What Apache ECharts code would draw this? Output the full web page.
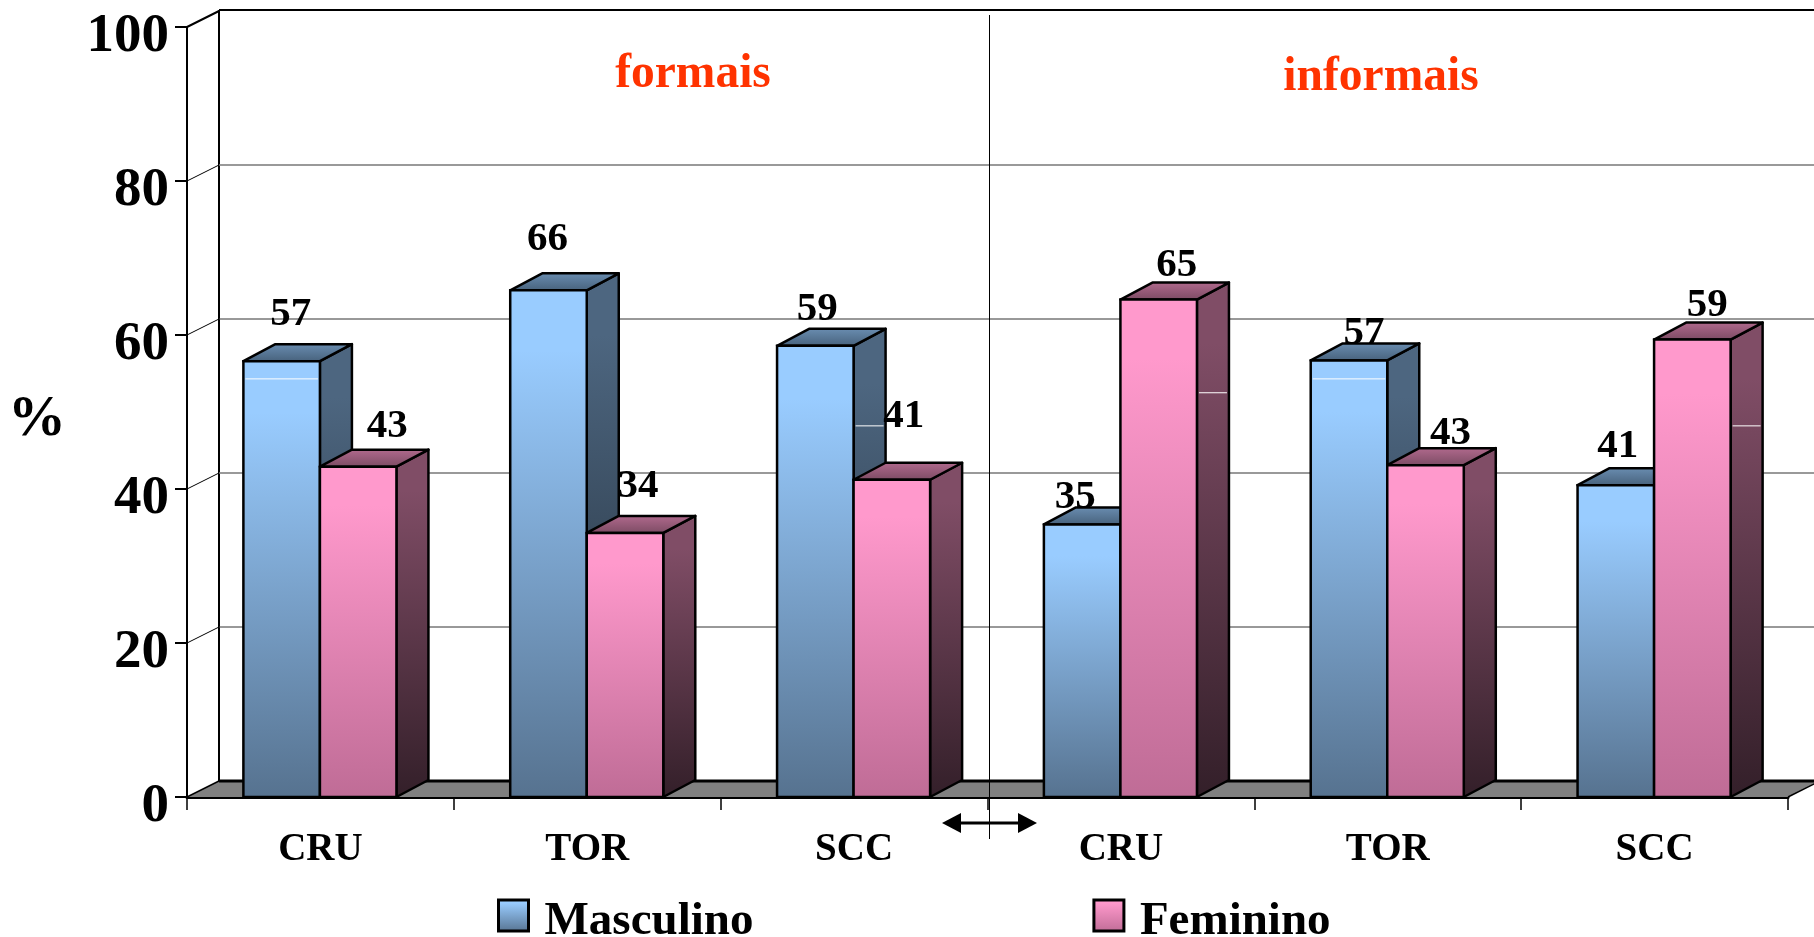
<!DOCTYPE html>
<html><head><meta charset="utf-8">
<style>html,body{margin:0;padding:0;background:#fff}#c{width:1814px;height:937px}</style>
<script src="https://cdn.jsdelivr.net/npm/echarts@6/dist/echarts.min.js"></script>
</head><body><div id="c"></div>
<script>
const categories = ['CRU','TOR','SCC','CRU','TOR','SCC'];
const masculino = [56.6,65.8,58.6,35.4,56.7,40.5];
const feminino  = [42.9,34.3,41.2,64.6,43.1,59.4];
const masculinoLabels = [57,66,59,35,57,41];
const femininoLabels  = [43,34,41,65,43,59];
const yTicks = [0,20,40,60,80,100];
const FONT = '"Liberation Serif","Times New Roman",serif';
// hand placement of each printed value, relative to the bar's top centre
const masculinoNudge = [[9,-47],[-1,-51],[2,-36],[-7,-27],[15,-27],[2,-39]];
const femininoNudge  = [[29,-40],[13,-46],[12,-63],[18,-34],[25,-32],[15,-34]];
// stray white hairlines of the original artwork: [value level, 'front'|'side']
const masculinoFlaw = {0:[54.3,'front'],2:[48.2,'side'],4:[54.3,'front']};
const femininoFlaw  = {3:[52.5,'side'],5:[48.2,'side']};

const DX = 32, DY = 17, WALL_DY = 16;
const lg = (stops)=>new echarts.graphic.LinearGradient(0,0,0,1,stops.map(s=>({offset:s[0],color:s[1]})));
const palettes = {
  m:{front:[[0,'#99ccff'],[0.12,'#99ccff'],[1,'#56728f']], side:[[0,'#4d6680'],[0.12,'#4d6680'],[1,'#1f2933']], top:[[0,'#6b8fb3'],[1,'#46607a']]},
  f:{front:[[0,'#ff99cc'],[0.12,'#ff99cc'],[1,'#bf6c96']], side:[[0,'#804d66'],[0.12,'#804d66'],[1,'#331f29']], top:[[0,'#b36b8f'],[1,'#7a4a62']]}
};
const stroke = '#000', SW = 2.5;

function barRenderer(side, pal, labels, nudge, flaws){
  return function(params, api){
    const i = api.value(0), v = api.value(1);
    const band = api.size([1,0])[0];
    const w = band*0.2868;
    const top = api.coord([i,v]), base = api.coord([i,0]);
    const x0 = side<0 ? top[0]-w-0.5 : top[0]-0.5, x1 = x0+w, yT = top[1], yB = base[1];
    const children = [
      {type:'polygon',shape:{points:[[x1,yT],[x1+DX,yT-DY],[x1+DX,yB-DY],[x1,yB]]},
       style:{fill:lg(pal.side),stroke,lineWidth:SW,lineJoin:'round'}},
      {type:'polygon',shape:{points:[[x0,yT],[x0+DX,yT-DY],[x1+DX,yT-DY],[x1,yT]]},
       style:{fill:lg(pal.top),stroke,lineWidth:SW,lineJoin:'round'}},
      {type:'rect',shape:{x:x0,y:yT,width:w,height:yB-yT},
       style:{fill:lg(pal.front),stroke,lineWidth:SW}}
    ];
    const fl = flaws[i];
    if(fl){
      const y = api.coord([i,fl[0]])[1];
      const seg = fl[1]==='front' ? [x0+2,x1-2] : [x1+2,x1+DX-2];
      children.push({type:'line',shape:{x1:seg[0],y1:y,x2:seg[1],y2:y},style:{stroke:'#fff',lineWidth:1}});
    }
    const cx = (x0+x1)/2;
    children.push({type:'text',z2:100,style:{text:String(labels[i]),x:cx+nudge[i][0],y:yT+nudge[i][1],
      font:'bold 41px '+FONT,fill:'#000',align:'center',verticalAlign:'middle'}});
    return {type:'group',children};
  };
}

function wallRenderer(params, api){
  const v = api.value(0);
  const cs = params.coordSys;
  const p = api.coord([0,v]);
  const lx = cs.x, rx = cs.x+cs.width;
  const wy = p[1]-WALL_DY;
  const children = [];
  if(v===0){
    children.push({type:'polygon',shape:{points:[[lx,p[1]],[lx+DX,wy],[rx+DX,wy],[rx,p[1]]]},style:{fill:'#808080',stroke:'none'}});
    children.push({type:'line',shape:{x1:lx+DX,y1:wy,x2:rx+DX,y2:wy},style:{stroke:'#000',lineWidth:3}});
    children.push({type:'line',shape:{x1:lx,y1:p[1],x2:lx+DX,y2:wy},style:{stroke:'#000',lineWidth:1.5}});
    children.push({type:'line',shape:{x1:rx,y1:p[1],x2:rx+DX,y2:wy},style:{stroke:'#000',lineWidth:1.5}});
    const t = api.coord([0,100]);
    children.push({type:'line',shape:{x1:lx+DX,y1:wy,x2:lx+DX,y2:t[1]-WALL_DY-1},style:{stroke:'#000',lineWidth:2}});
  } else {
    const strong = v===100, soft = v===80||v===40;
    children.push({type:'line',shape:{x1:lx,y1:p[1],x2:lx+DX,y2:wy},style:{stroke:'#000',lineWidth:strong?2:1}});
    children.push({type:'line',shape:{x1:lx+DX,y1:strong?wy-1:wy,x2:rx+DX,y2:strong?wy-1:wy},
      style:{stroke:strong?'#000':(soft?'#777':'#333'),lineWidth:strong?2:(soft?1.5:1)}});
  }
  return {type:'group',children};
}

const chart = echarts.init(document.getElementById('c'),null,{renderer:'canvas'});
const legendIcon = (stops)=>({color:lg(stops),borderColor:'#000',borderWidth:3});
chart.setOption({
  animation:false,
  backgroundColor:'#fff',
  grid:{left:187,right:26,top:27,bottom:140},
  xAxis:{type:'category',data:categories,boundaryGap:true,
    axisLine:{lineStyle:{color:'#000',width:3}},
    axisTick:{show:true,alignWithLabel:false,length:13,lineStyle:{color:'#000',width:1.5}},
    axisLabel:{color:'#000',fontFamily:FONT,fontWeight:'bold',fontSize:39,margin:33,interval:0},
    splitLine:{show:false}},
  yAxis:{type:'value',min:0,max:100,interval:20,
    axisLine:{show:true,lineStyle:{color:'#000',width:2}},
    axisTick:{show:true,length:12,lineStyle:{color:'#000',width:2}},
    axisLabel:{color:'#000',fontFamily:FONT,fontWeight:'bold',fontSize:55,margin:18,verticalAlign:'top',lineHeight:19},
    splitLine:{show:false}},
  legend:{left:492,top:893,itemWidth:30,itemHeight:31,itemGap:339,selectedMode:false,
    formatter:'{t|{name}}',
    textStyle:{color:'#000',rich:{t:{color:'#000',fontFamily:FONT,fontWeight:'bold',fontSize:47,padding:[12,0,0,11]}}},
    data:[{name:'Masculino',icon:'rect',itemStyle:legendIcon(palettes.m.front)},
          {name:'Feminino',icon:'rect',itemStyle:legendIcon(palettes.f.front)}]},
  tooltip:{show:false},
  graphic:[
    {type:'text',x:693,y:74.5,z:10,style:{text:'formais',font:'bold 47.5px '+FONT,fill:'#ff3300',align:'center',verticalAlign:'middle'}},
    {type:'text',x:1381,y:77.5,z:10,style:{text:'informais',font:'bold 47.5px '+FONT,fill:'#ff3300',align:'center',verticalAlign:'middle'}},
    {type:'text',x:37,y:420,z:10,style:{text:'%',font:'bold 58px '+FONT,fill:'#000',align:'center',verticalAlign:'middle'}},
    {type:'line',z:10,shape:{x1:989.5,y1:15,x2:989.5,y2:839},style:{stroke:'#000',lineWidth:1}},
    {type:'line',z:10,shape:{x1:955,y1:823,x2:1025,y2:823},style:{stroke:'#000',lineWidth:3}},
    {type:'polygon',z:10,shape:{points:[[942,823],[961,813],[961,833]]},style:{fill:'#000'}},
    {type:'polygon',z:10,shape:{points:[[1037,823],[1018,813],[1018,833]]},style:{fill:'#000'}}
  ],
  series:[
    {type:'custom',name:'wall',silent:true,z:1,coordinateSystem:'cartesian2d',clip:false,
     encode:{y:0},data:yTicks.map(v=>[v]),dimensions:['v'],renderItem:wallRenderer,
     xAxisIndex:0,yAxisIndex:0},
    {type:'custom',name:'Masculino',z:2,clip:false,encode:{x:0,y:1},
     data:masculino.map((v,i)=>[i,v]),
     renderItem:barRenderer(-1,palettes.m,masculinoLabels,masculinoNudge,masculinoFlaw)},
    {type:'custom',name:'Feminino',z:2,clip:false,encode:{x:0,y:1},
     data:feminino.map((v,i)=>[i,v]),
     renderItem:barRenderer(1,palettes.f,femininoLabels,femininoNudge,femininoFlaw)}
  ]
});
</script></body></html>
